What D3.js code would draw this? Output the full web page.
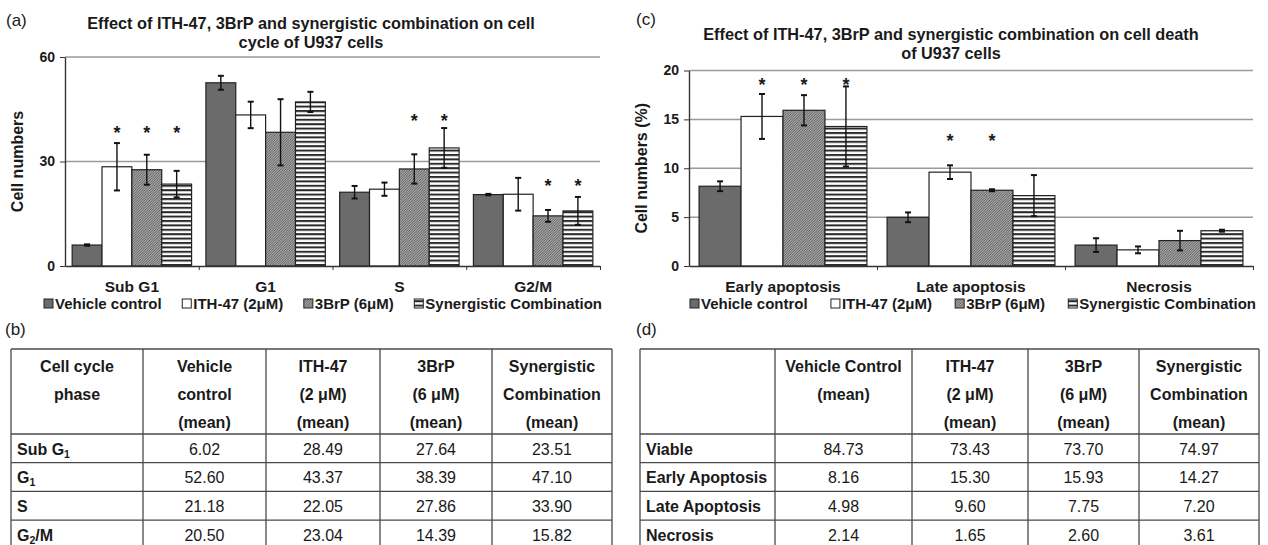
<!DOCTYPE html>
<html>
<head>
<meta charset="utf-8">
<script src="https://cdn.jsdelivr.net/npm/d3@7"></script>
<style>
  body { margin: 0; background: #fff; }
  text { font-family: "Liberation Sans", Arial, sans-serif; fill: #1a1a1a; }
</style>
</head>
<body>
<script>
// ---- data ----
var series = ["Vehicle control", "ITH-47 (2μM)", "3BrP (6μM)", "Synergistic Combination"];

var cycleCats = ["Sub G1", "G1", "S", "G2/M"];
var cycleMeans = [[6.02, 28.49, 27.64, 23.51], [52.60, 43.37, 38.39, 47.10], [21.18, 22.05, 27.86, 33.90], [20.50, 20.6, 14.39, 15.82]];
var cycleErr = [[0.2, 6.8, 4.3, 3.8], [2.0, 3.8, 9.5, 2.9], [1.8, 1.9, 4.2, 5.7], [0.2, 4.7, 1.7, 4.0]];
// [category, series, height of the star]
var cycleStars = [[0, 1, 39.3], [0, 2, 39.3], [0, 3, 39.3], [2, 2, 42.9], [2, 3, 42.9], [3, 2, 24.0], [3, 3, 24.0]];
var cycleTicks = [0, 30, 60];

var deathCats = ["Early apoptosis", "Late apoptosis", "Necrosis"];
var deathMeans = [[8.16, 15.30, 15.93, 14.27], [4.98, 9.60, 7.75, 7.20], [2.14, 1.65, 2.60, 3.61]];
var deathErr = [[0.5, 2.3, 1.55, 4.1], [0.5, 0.7, 0.1, 2.1], [0.7, 0.35, 1.0, 0.1]];
var deathStars = [[0, 1, 18.9], [0, 2, 18.9], [0, 3, 18.9], [1, 1, 13.2], [1, 2, 13.2]];
var deathTicks = [0, 5, 10, 15, 20];

var tableBHead = [["Cell cycle", "phase"], ["Vehicle", "control", "(mean)"], ["ITH-47", "(2 μM)", "(mean)"], ["3BrP", "(6 μM)", "(mean)"], ["Synergistic", "Combination", "(mean)"]];
var tableBRows = [["Sub G", "1", ""], ["G", "1", ""], ["S", "", ""], ["G", "2", "/M"]];
var tableBValues = [["6.02", "28.49", "27.64", "23.51"], ["52.60", "43.37", "38.39", "47.10"], ["21.18", "22.05", "27.86", "33.90"], ["20.50", "23.04", "14.39", "15.82"]];

var tableDHead = [[], ["Vehicle Control", "(mean)"], ["ITH-47", "(2 μM)", "(mean)"], ["3BrP", "(6 μM)", "(mean)"], ["Synergistic", "Combination", "(mean)"]];
var tableDRows = [["Viable", "", ""], ["Early Apoptosis", "", ""], ["Late Apoptosis", "", ""], ["Necrosis", "", ""]];
var tableDValues = [["84.73", "73.43", "73.70", "74.97"], ["8.16", "15.30", "15.93", "14.27"], ["4.98", "9.60", "7.75", "7.20"], ["2.14", "1.65", "2.60", "3.61"]];

// ---- svg ----
const svg = d3.select("body").append("svg")
    .attr("width", 1268).attr("height", 545);

const defs = svg.append("defs");
var hatch = defs.append("pattern").attr("id", "hatch")
    .attr("patternUnits", "userSpaceOnUse").attr("width", 2.5).attr("height", 2.5);
hatch.append("rect").attr("width", 2.5).attr("height", 2.5).attr("fill", "#a9a9a9");
hatch.append("path").attr("d", "M-1,1 l2,-2 M0,2.5 l2.5,-2.5 M1.5,3.5 l2,-2")
    .attr("stroke", "#4a4a4a").attr("stroke-width", 0.8);
var stripes = defs.append("pattern").attr("id", "stripes")
    .attr("patternUnits", "userSpaceOnUse").attr("width", 4).attr("height", 4.4);
stripes.append("rect").attr("width", 4).attr("height", 4.4).attr("fill", "#fff");
stripes.append("rect").attr("width", 4).attr("height", 2).attr("fill", "#2a2a2a");

var fills = ["#6b6b6b", "#ffffff", "url(#hatch)", "url(#stripes)"];

function barChart(o) {
    const g = svg.append("g");
    const x0 = d3.scaleBand().domain(o.cats).range([o.left, o.right]).padding(0);
    const x1 = d3.scaleBand().domain(series).range([0, x0.bandwidth()])
        .paddingInner(0).paddingOuter(0.24);
    const y = d3.scaleLinear().domain([0, d3.max(o.ticks)]).range([o.bottom, o.top]);

    // gridlines
    g.append("g").selectAll("line").data(o.ticks.filter(t => t > 0)).join("line")
        .attr("x1", o.left).attr("x2", o.right)
        .attr("y1", d => y(d)).attr("y2", d => y(d))
        .attr("stroke", "#9a9a9a").attr("stroke-width", 1.5);

    var flat = [];
    o.cats.forEach((c, i) => series.forEach((s, j) => {
        flat.push({cat: c, s: s, j: j, v: o.means[i][j], e: o.errs[i][j]});
    }));

    g.append("g").selectAll("rect").data(flat).join("rect")
        .attr("x", d => x0(d.cat) + x1(d.s))
        .attr("y", d => y(d.v))
        .attr("width", x1.bandwidth())
        .attr("height", d => y(0) - y(d.v))
        .attr("fill", d => fills[d.j])
        .attr("stroke", "#222").attr("stroke-width", 1.2);

    // error bars
    const eb = g.append("g").attr("stroke", "#111").attr("stroke-width", 1.4);
    flat.forEach(d => {
        const cx = x0(d.cat) + x1(d.s) + x1.bandwidth() / 2;
        eb.append("line").attr("x1", cx).attr("x2", cx).attr("y1", y(d.v - d.e)).attr("y2", y(d.v + d.e));
        [d.v - d.e, d.v + d.e].forEach(v => {
            eb.append("line").attr("x1", cx - 3).attr("x2", cx + 3).attr("y1", y(v)).attr("y2", y(v))
                .attr("stroke-width", 2);
        });
    });

    // stars
    g.append("g").selectAll("text").data(o.stars).join("text")
        .attr("x", d => x0(o.cats[d[0]]) + x1(series[d[1]]) + x1.bandwidth() / 2)
        .attr("y", d => y(d[2]) + 10)
        .attr("text-anchor", "middle")
        .attr("font-size", 18).attr("font-weight", "bold")
        .text("*");

    // y axis
    g.append("g").attr("transform", `translate(${o.left},0)`)
        .call(d3.axisLeft(y).tickValues(o.ticks).tickSize(5).tickSizeOuter(0).tickPadding(5))
        .call(a => a.select(".domain").attr("stroke", "#333").attr("stroke-width", 1.4))
        .call(a => a.selectAll(".tick line").attr("stroke", "#333"))
        .call(a => a.selectAll("text").attr("font-size", 14).attr("font-weight", "bold")
            .attr("font-family", "Liberation Sans, Arial, sans-serif").attr("fill", "#1a1a1a"));

    // x axis with ticks at category boundaries
    const xt = d3.scaleLinear().domain([0, o.cats.length]).range([o.left, o.right]);
    g.append("g").attr("transform", `translate(0,${o.bottom})`)
        .call(d3.axisBottom(xt).tickValues(d3.range(1, o.cats.length + 1)).tickSize(4).tickSizeOuter(0).tickFormat(""))
        .call(a => a.select(".domain").attr("stroke", "#333").attr("stroke-width", 1.4))
        .call(a => a.selectAll(".tick line").attr("stroke", "#333"));

    g.append("g").attr("transform", `translate(0,${o.bottom})`)
        .call(d3.axisBottom(x0).tickSize(0).tickPadding(15))
        .call(a => a.select(".domain").remove())
        .call(a => a.selectAll("text").attr("font-size", 15.5).attr("font-weight", "bold")
            .attr("font-family", "Liberation Sans, Arial, sans-serif").attr("fill", "#1a1a1a"));

    // title
    const t = g.append("text").attr("text-anchor", "middle")
        .attr("font-size", 16.3).attr("font-weight", "bold");
    o.title.forEach((line, i) => {
        t.append("tspan").attr("x", o.titleX).attr("y", o.titleY + i * 19).text(line);
    });

    // y label
    g.append("text")
        .attr("transform", `translate(${o.ylabX},${(o.top + o.bottom) / 2}) rotate(-90)`)
        .attr("text-anchor", "middle").attr("font-size", 16).attr("font-weight", "bold")
        .text(o.ylab);

    // panel letter
    g.append("text").attr("x", o.letterX).attr("y", o.letterY)
        .attr("font-size", 17).text(o.letter);

    // legend, spread across given span
    const lg = g.append("g").attr("transform", `translate(0,${o.legendY})`);
    const items = series.map((s, j) => {
        const it = lg.append("g");
        it.append("rect").attr("x", 0).attr("y", -10).attr("width", 9).attr("height", 9)
            .attr("fill", fills[j]).attr("stroke", "#222").attr("stroke-width", 1);
        const tx = it.append("text").attr("x", 11).attr("y", 0)
            .attr("font-size", 15).attr("font-weight", "bold").text(s);
        return {g: it, w: 11 + tx.node().getComputedTextLength()};
    });
    const total = d3.sum(items, d => d.w);
    const gap = (o.legendR - o.legendL - total) / (items.length - 1);
    var cur = o.legendL;
    items.forEach(d => {
        d.g.attr("transform", `translate(${cur},0)`);
        cur += d.w + gap;
    });
}

barChart({
    left: 65, right: 600, top: 57, bottom: 266,
    cats: cycleCats, means: cycleMeans, errs: cycleErr, stars: cycleStars, ticks: cycleTicks,
    title: ["Effect of ITH-47, 3BrP and synergistic combination on cell", "cycle of U937 cells"],
    titleX: 311, titleY: 29,
    ylab: "Cell numbers", ylabX: 23,
    letter: "(a)", letterX: 6, letterY: 26,
    legendY: 309, legendL: 44, legendR: 602
});

barChart({
    left: 689, right: 1253, top: 70.5, bottom: 266,
    cats: deathCats, means: deathMeans, errs: deathErr, stars: deathStars, ticks: deathTicks,
    title: ["Effect of ITH-47, 3BrP and synergistic combination on cell death", "of U937 cells"],
    titleX: 951, titleY: 40,
    ylab: "Cell numbers (%)", ylabX: 647,
    letter: "(c)", letterX: 636, letterY: 25,
    legendY: 309, legendL: 690, legendR: 1256
});

// ---- tables ----
function table(o) {
    const g = svg.append("g");
    const headH = 85, rowH = 28.7;
    const bottom = o.top + headH + rowH * o.rows.length;
    const lines = g.append("g").attr("stroke", "#4a4a4a").attr("stroke-width", 1.3);
    o.cols.forEach(x => lines.append("line").attr("x1", x).attr("x2", x).attr("y1", o.top).attr("y2", bottom));
    d3.range(o.rows.length + 1).forEach(i => {
        const yy = i === 0 ? o.top : o.top + headH + rowH * (i - 1);
        lines.append("line").attr("x1", o.cols[0]).attr("x2", o.cols[o.cols.length - 1]).attr("y1", yy).attr("y2", yy);
    });
    lines.append("line").attr("x1", o.cols[0]).attr("x2", o.cols[o.cols.length - 1])
        .attr("y1", bottom).attr("y2", bottom);

    // header
    o.head.forEach((cell, c) => {
        const cx = (o.cols[c] + o.cols[c + 1]) / 2;
        cell.forEach((line, k) => {
            g.append("text").attr("x", cx).attr("y", o.top + 22.5 + k * 28)
                .attr("text-anchor", "middle").attr("font-size", 16).attr("font-weight", "bold")
                .text(line);
        });
    });
    // rows
    o.rows.forEach((r, i) => {
        const by = o.top + headH + rowH * i + 20.5;
        const t = g.append("text").attr("x", o.cols[0] + 6).attr("y", by)
            .attr("font-size", 16).attr("font-weight", "bold");
        t.append("tspan").text(r[0]);
        if (r[1]) t.append("tspan").attr("font-size", 10.5).attr("dy", 3).text(r[1]);
        if (r[2]) t.append("tspan").attr("dy", -3).text(r[2]);
        o.values[i].forEach((v, c) => {
            g.append("text").attr("x", (o.cols[c + 1] + o.cols[c + 2]) / 2).attr("y", by)
                .attr("text-anchor", "middle").attr("font-size", 16).text(v);
        });
    });
    g.append("text").attr("x", o.letterX).attr("y", o.top - 14).attr("font-size", 17).text(o.letter);
}

table({cols: [11, 143, 266, 380, 492, 612], top: 349, head: tableBHead, rows: tableBRows, values: tableBValues, letter: "(b)", letterX: 5});
table({cols: [640, 775, 912, 1028, 1139, 1259], top: 349, head: tableDHead, rows: tableDRows, values: tableDValues, letter: "(d)", letterX: 636});
</script>
</body>
</html>
